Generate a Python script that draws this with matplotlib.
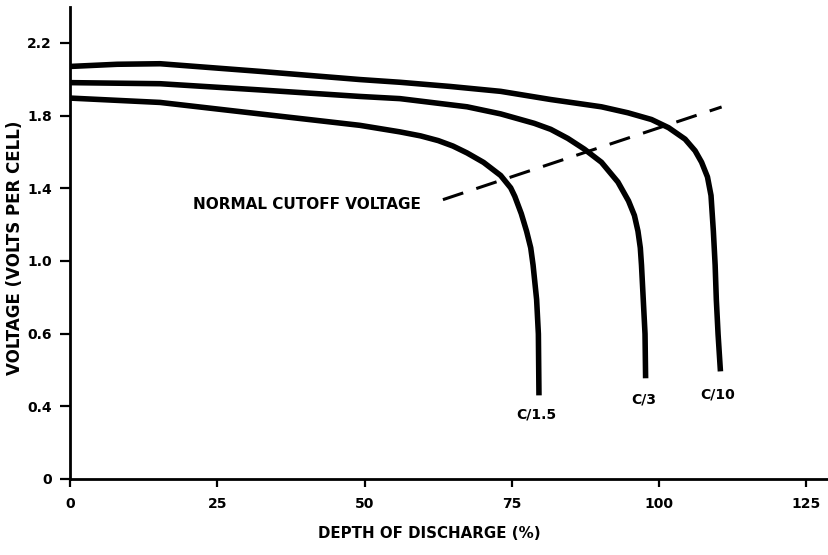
import numpy as np
import matplotlib.pyplot as plt

# Lead-acid discharge curves
# x = depth of discharge (%), y = volts per cell
dod_c10 = [0, 8, 15.3, 32.2, 49.2, 56.0, 64.5, 73.1, 81.6, 90.2, 94.7, 98.7, 101.6, 104.4,
           106.1, 107.2, 108.2, 108.8, 109.2, 109.5, 109.7, 110.0, 110.4]
volt_c10 = [2.070, 2.082, 2.085, 2.043, 1.998, 1.983, 1.960, 1.933, 1.888, 1.848, 1.815, 1.778,
            1.733, 1.670, 1.606, 1.543, 1.462, 1.360, 1.163, 0.977, 0.788, 0.598, 0.496]

dod_c3 = [0, 15.3, 32.2, 49.2, 56.0, 67.4, 73.1, 78.8, 81.6, 84.5, 87.3, 90.2, 93.0, 94.8,
          95.8, 96.4, 96.8, 97.0, 97.3, 97.6, 97.7]
volt_c3 = [1.981, 1.975, 1.941, 1.905, 1.893, 1.848, 1.809, 1.757, 1.724, 1.674, 1.615, 1.543,
           1.434, 1.330, 1.250, 1.164, 1.072, 0.977, 0.788, 0.599, 0.477]

dod_c15 = [0, 15.3, 32.2, 49.2, 56.0, 59.5, 62.5, 65.0, 67.4, 70.2, 73.1, 74.8, 75.5, 76.6, 77.5,
           78.2, 78.6, 79.2, 79.5, 79.6]
volt_c15 = [1.896, 1.872, 1.809, 1.746, 1.710, 1.688, 1.662, 1.632, 1.594, 1.542, 1.470, 1.402,
            1.355, 1.260, 1.163, 1.072, 0.977, 0.788, 0.599, 0.430]

# normal cutoff voltage (dashed)
dod_cutoff = [63.3, 110.6]
volt_cutoff = [1.337, 1.847]

curve_labels = ['C/10', 'C/3', 'C/1.5']
label_dod = [109.9, 97.4, 79.2]
label_volt = [0.432, 0.42, 0.357]

# the printed voltage axis has evenly spaced ticks with these labels
volt_ticks = [0, 0.4, 0.6, 1.0, 1.4, 1.8, 2.2]
volt_ticklabels = ['0', '0.4', '0.6', '1.0', '1.4', '1.8', '2.2']
dod_ticks = [0, 25, 50, 75, 100, 125]

plt.rcParams['font.family'] = ['DejaVu Sans']
plt.rcParams['font.weight'] = 'bold'

breaks = volt_ticks + [2.6]
steps = np.arange(len(breaks))


def fwd(v):
    return np.interp(v, breaks, steps)


def inv(p):
    return np.interp(p, steps, breaks)


fig = plt.figure(figsize=(8.29, 5.55), dpi=100)
ax = fig.add_axes([0.0844, 0.137, 0.914, 0.850])
ax.set_yscale('function', functions=(fwd, inv))

for x, y in [(dod_c10, volt_c10), (dod_c3, volt_c3), (dod_c15, volt_c15)]:
    ax.plot(x, y, color='black', lw=4, solid_capstyle='butt', solid_joinstyle='round')

ax.plot(dod_cutoff, volt_cutoff, color='black', lw=2.2, dashes=(7, 4.5))
ax.text(20.9, 1.311, 'NORMAL CUTOFF VOLTAGE', fontsize=11, fontweight='bold',
        ha='left', va='center')

for lab, x, y in zip(curve_labels, label_dod, label_volt):
    ax.text(x, y, lab, fontsize=10, fontweight='bold', ha='center', va='center')

ax.set_xlim(0, 128.6)
ax.set_ylim(0, 2.396)
ax.set_xticks(dod_ticks)
ax.set_yticks(volt_ticks)
ax.set_yticklabels(volt_ticklabels)
ax.tick_params(axis='both', direction='out', width=1.6, labelsize=10)
ax.tick_params(axis='y', length=7, pad=6)
ax.tick_params(axis='x', length=6, pad=7)

for side in ['top', 'right']:
    ax.spines[side].set_visible(False)
for side in ['left', 'bottom']:
    ax.spines[side].set_linewidth(2)

ax.set_xlabel('DEPTH OF DISCHARGE (%)', fontsize=10.8, fontweight='bold')
ax.xaxis.set_label_coords(0.474, -0.100)
ax.set_ylabel('VOLTAGE (VOLTS PER CELL)', fontsize=12, fontweight='bold')
ax.yaxis.set_label_coords(-0.061, 0.49)

fig.savefig('out.png', dpi=100)
